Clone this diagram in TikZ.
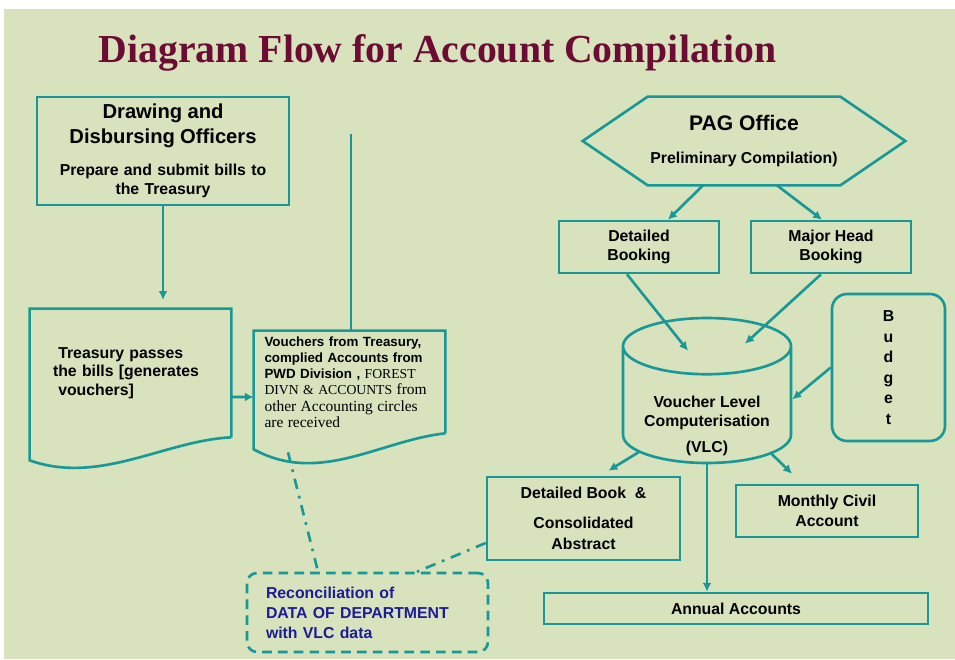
\documentclass[tikz,border=0pt]{standalone}
\usepackage{fontspec}
\setmainfont{Liberation Sans}
\newfontfamily\serifont{Liberation Serif}
\usepackage{tikz}
\usetikzlibrary{arrows.meta,shapes.geometric}
\definecolor{lineteal}{RGB}{24,152,150}
\definecolor{bggreen}{RGB}{216,226,189}
\definecolor{titlered}{RGB}{108,12,52}
\definecolor{recblue}{RGB}{28,28,150}

\begin{document}
\begin{tikzpicture}[x=0.02cm,y=-0.02cm,>/.tip={Latex[length=5pt,width=5pt]},
  every node/.style={font=\bfseries\fontsize{9}{11}\selectfont},
  line/.style={draw=lineteal,line width=1.5pt},
  box/.style={line,rectangle,align=center},
  link/.style={line,->},
  dashdot/.style={line,dash pattern=on 6pt off 4pt on 1.5pt off 4pt}]
\useasboundingbox (0,0) rectangle (955,659);
\fill[white] (0,0) rectangle (955,659);
\fill[bggreen] (4,9) rectangle (955,659);

% title
\draw (437.5,62) node (title) [anchor=base,text=titlered,font=\serifont\bfseries\fontsize{22.6}{27}\selectfont] {Diagram Flow for Account Compilation};

% left side: offices and treasury
\draw (163,151)   node (ddo)   [box,minimum width=5cm,minimum height=2.16cm,text width=4.8cm] {{\fontsize{11.5}{14}\selectfont Drawing and\\Disbursing Officers\par}\vspace{7pt}Prepare and submit bills to\\the Treasury};
\draw (130.5,373) node (treas) [minimum width=4.02cm,minimum height=2.56cm,text width=3.1cm,align=left,font=\bfseries\fontsize{9}{10.5}\selectfont] {\hspace*{3pt}Treasury passes\\the bills [generates\\\hspace*{3pt}vouchers]};
\draw (349.5,382) node (vouch) [inner sep=1pt,minimum width=3.82cm,minimum height=2.04cm,text width=3.4cm,align=left,font=\bfseries\fontsize{7.6}{9.2}\selectfont] {Vouchers from Treasury,\\complied Accounts from\\PWD Division , {\serifont\mdseries\fontsize{7.8}{9.2}\selectfont FOREST}\\{\serifont\mdseries\fontsize{7.8}{9.2}\selectfont DIVN \& ACCOUNTS} {\serifont\mdseries\fontsize{8.8}{9.2}\selectfont from}\\{\serifont\mdseries\fontsize{8.8}{9.2}\selectfont other Accounting circles}\\{\serifont\mdseries\fontsize{8.8}{9.2}\selectfont are received}};
\draw (367.5,612.5) node (recon) [line,dashed,dash pattern=on 5.5pt off 3.5pt,rounded corners=0.2cm,minimum width=4.82cm,minimum height=1.58cm,text width=4.06cm,align=left,text=recblue,font=\bfseries\fontsize{9}{11.3}\selectfont] {Reconciliation of\\DATA OF DEPARTMENT\\with VLC data};
\coordinate (vtop) at (351,134);

% document outlines
\draw[line] (treas.south east) -- (treas.north east) -- (treas.north west) -- ([yshift=-0.46cm]treas.south west) .. controls +(70,25) and +(-66,3) .. (treas.south east);
\draw[line] (vouch.south east) -- (vouch.north east) -- (vouch.north west) -- ([yshift=-0.32cm]vouch.south west) .. controls +(66,36) and +(-65,7) .. (vouch.south east);

% right side: PAG office and VLC
\draw (744,141)     node (pag)    [minimum width=6.44cm,minimum height=1.76cm,align=center] {{\fontsize{12}{14}\selectfont PAG Office}\\[8pt]Preliminary Compilation)};
\draw (639,247)     node (detb)   [box,minimum width=3.2cm,minimum height=1.04cm] {Detailed\\Booking};
\draw (831,247)     node (majb)   [box,minimum width=3.2cm,minimum height=1.04cm] {Major Head\\Booking};
\draw (707,390.5)   node (vlc)    [line,cylinder,shape border rotate=90,aspect=4.8,anchor=shape center,minimum width=3.36cm,minimum height=2.9cm] {};
\draw (707,426)     node (vlctxt) [align=center] {Voucher Level\\Computerisation\\[4pt](VLC)};
\draw (888.5,367.5) node (bud)    [box,rounded corners=0.3cm,minimum width=2.26cm,minimum height=2.94cm,font=\bfseries\fontsize{9}{11.7}\selectfont] {B\\u\\d\\g\\e\\t};
\draw (583.5,518.5) node (dbook)  [box,minimum width=3.86cm,minimum height=1.66cm] {Detailed Book\ \ \&\\[6pt]Consolidated\\[1pt]Abstract};
\draw (827,511)     node (mca)    [box,minimum width=3.64cm,minimum height=1.04cm] {Monthly Civil\\Account};
\draw (736,608.5)   node (annual) [box,minimum width=7.68cm,minimum height=0.62cm] {Annual Accounts};

\draw[line] (pag.west) -- ([xshift=1.3cm]pag.north west) -- ([xshift=-1.3cm]pag.north east) -- (pag.east) -- ([xshift=-1.3cm]pag.south east) -- ([xshift=1.3cm]pag.south west) -- cycle;

% connectors
\draw[line] (vtop) -- (vtop |- vouch.north);
\draw[link,shorten >=5pt] (ddo.south) -- (ddo.south |- treas.north);
\draw[link] ([yshift=-0.48cm]treas.east) -- ([yshift=-0.3cm]vouch.west);
\draw[link] ([xshift=-0.82cm]pag.south) -- ([xshift=0.58cm]detb.north);
\draw[link] ([xshift=0.66cm]pag.south) -- ([xshift=-0.18cm]majb.north);
\draw[link] ([xshift=-0.24cm]detb.south) -- ([xshift=-0.38cm,yshift=-0.68cm]vlc.north);
\draw[link] ([xshift=-0.2cm]majb.south) -- ([xshift=0.76cm,yshift=-0.54cm]vlc.north);
\draw[link] (bud.west) -- ([yshift=0.22cm]vlc.east);
\draw[link] ([xshift=-1.34cm,yshift=0.26cm]vlc.south) -- ([xshift=0.5cm,yshift=0.1cm]dbook.north);
\draw[link] ([xshift=1.26cm,yshift=0.24cm]vlc.south) -- ([xshift=-0.7cm,yshift=0.2cm]mca.north);
\draw[link] (vlc.south) -- (vlc.south |- annual.north);
\draw[dashdot] ([xshift=-1.23cm,yshift=-0.38cm]vouch.south) -- ([xshift=-0.99cm]recon.north);
\draw[dashdot] ([yshift=-0.49cm]dbook.west) -- ([xshift=0.99cm]recon.north);

\end{tikzpicture}
\end{document}
